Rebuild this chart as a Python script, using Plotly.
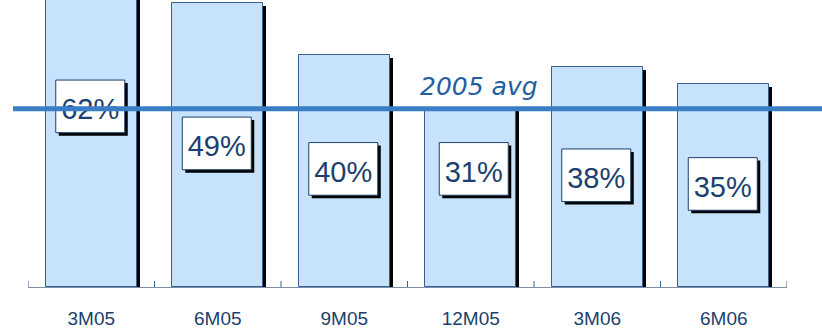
import plotly.graph_objects as go

# Period labels and shares (%)
periods = ["3M05", "6M05", "9M05", "12M05", "3M06", "6M06"]
shares = [62, 49, 40, 31, 38, 35]
avg_2005 = 30.8
avg_label = "2005 avg"

# Where each value box sits (axis units) and its small horizontal nudge (px)
label_y = [31.2, 24.8, 20.4, 20.4, 19.3, 17.8]
label_dx = [-1, -1, -1, 3, -1, -1]

W, H = 822, 329
ML, MR, MT, MB = 28, 35, 0, 40
plot_w = W - ML - MR
plot_h = H - MT - MB
px_per_unit = 5.83
y_max = plot_h / px_per_unit
cat_px = plot_w / len(periods)

navy = "#1B3F6E"
bar_fill = "#C6E2FC"
bar_edge = "#3A5F8A"
avg_blue = "#3A7EC6"
axis_col = "#7A90A8"
font_main = "Arial, Liberation Sans, sans-serif"

bar_w = 0.72
sh = 3  # drop-shadow offset in px
box_w, box_h = 69, 53  # value box size in px


def ux(px):
    return px / cat_px


def uy(px):
    return px / px_per_unit


fig = go.Figure()

# drop shadow behind each bar
fig.add_trace(go.Bar(
    x=periods, y=[v - uy(sh) for v in shares],
    width=bar_w, offset=-bar_w / 2 + ux(sh),
    marker=dict(color="black", line=dict(width=0)),
    hoverinfo="skip", showlegend=False,
))
# main bars
fig.add_trace(go.Bar(
    x=periods, y=shares, width=bar_w, offset=-bar_w / 2,
    marker=dict(color=bar_fill, line=dict(color=bar_edge, width=1)),
    showlegend=False,
))

shapes = []
# value boxes: shadow, then white box carrying the text
for i, (v, ly, dx) in enumerate(zip(shares, label_y, label_dx)):
    cx = i + ux(dx)
    shapes.append(dict(
        type="rect", layer="above", xref="x", yref="y",
        x0=cx - ux(box_w / 2) + ux(sh), x1=cx + ux(box_w / 2) + ux(sh),
        y0=ly - uy(box_h / 2) - uy(sh), y1=ly + uy(box_h / 2) - uy(sh),
        fillcolor="black", line=dict(width=0),
    ))
    shapes.append(dict(
        type="rect", layer="above", xref="x", yref="y",
        x0=cx - ux(box_w / 2), x1=cx + ux(box_w / 2),
        y0=ly - uy(box_h / 2), y1=ly + uy(box_h / 2),
        fillcolor="white", line=dict(color=navy, width=1),
        label=dict(text=f"{v}%", textposition="middle center",
                   font=dict(family=font_main, size=29, color=navy)),
    ))

# category boundary ticks crossing the axis
for b in range(len(periods) + 1):
    shapes.append(dict(
        type="line", layer="above", xref="x", yref="y",
        ysizemode="pixel", yanchor=0, x0=b - 0.5, x1=b - 0.5, y0=-6, y1=6,
        line=dict(color=bar_edge, width=1),
    ))

# 2005 average line, running past the plot to the right edge
shapes.append(dict(
    type="line", layer="above", xref="paper", yref="y",
    x0=-15 / plot_w, x1=1 + (MR + 2) / plot_w, y0=avg_2005, y1=avg_2005,
    line=dict(color=avg_blue, width=5),
))

fig.update_layout(
    width=W, height=H,
    margin=dict(l=ML, r=MR, t=MT, b=MB),
    paper_bgcolor="white", plot_bgcolor="white",
    barmode="overlay", bargap=0,
    shapes=shapes,
    annotations=[dict(
        text=f"<i>{avg_label}</i>", xref="paper", yref="y",
        x=(479 - ML) / plot_w, y=avg_2005, yanchor="bottom", yshift=6,
        showarrow=False,
        font=dict(family="DejaVu Sans, Verdana, sans-serif", size=25, color="#235E9E"),
    )],
    xaxis=dict(
        type="category", range=[-0.5, len(periods) - 0.5],
        showline=True, linecolor=axis_col, linewidth=1,
        ticks="", showgrid=False, zeroline=False,
        tickfont=dict(family=font_main, size=19, color=navy),
        ticklabelstandoff=14,
    ),
    yaxis=dict(range=[0, y_max], visible=False, showgrid=False, zeroline=False),
)

fig.write_html("out.html")
